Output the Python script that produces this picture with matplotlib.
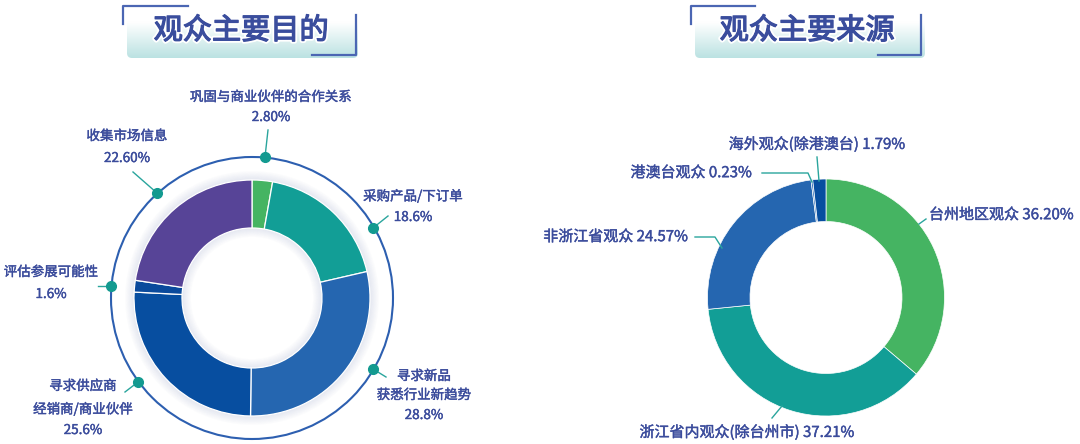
import matplotlib
matplotlib.use('Agg')
import matplotlib.pyplot as plt
import numpy as np
from matplotlib.patches import FancyBboxPatch, Circle, Wedge
import matplotlib.patheffects as pe

plt.rcParams['font.family'] = ['Noto Sans CJK SC', 'DejaVu Sans']

W, H = 1080, 444

left_title = '观众主要目的'
right_title = '观众主要来源'

purpose_labels = ['巩固与商业伙伴的合作关系', '采购产品/下订单', '寻求新品\n获悉行业新趋势',
                  '寻求供应商\n经销商/商业伙伴', '评估参展可能性', '收集市场信息']
purpose_values = [2.80, 18.6, 28.8, 25.6, 1.6, 22.60]
purpose_pct = ['2.80%', '18.6%', '28.8%', '25.6%', '1.6%', '22.60%']
purpose_colors = ['#45b462', '#129e96', '#2566b0', '#074ea0', '#0a4a9c', '#574497']

source_labels = ['台州地区观众', '浙江省内观众(除台州市)', '非浙江省观众', '港澳台观众', '海外观众(除港澳台)']
source_values = [36.20, 37.21, 24.57, 0.23, 1.79]
source_pct = ['36.20%', '37.21%', '24.57%', '0.23%', '1.79%']
source_colors = ['#45b462', '#129e96', '#2566b0', '#2f6fb8', '#074ea0']

TXT = '#3b4c9c'
LEAD = '#2aa59d'
DOT = '#139a90'
TITLE = '#3a4d9d'

fig = plt.figure(figsize=(10.8, 4.44), dpi=100)
ax = fig.add_axes([0, 0, 1, 1])


def Y(y):
    return H - y


label_fx = [pe.Stroke(linewidth=0.3, foreground=TXT), pe.Normal()]


# ---------- title boxes ----------
def title_box(x0, x1, tl, br, text, tx):
    y0, y1 = 10, 58
    grad = np.linspace(0, 1, 100)[:, None]
    top = np.array([1.0, 1.0, 1.0])
    bot = np.array([0xbb, 0xe2, 0xe2]) / 255
    t = np.clip((grad - 0.25) / 0.75, 0, 1)
    img = top * (1 - t[..., None]) + bot * t[..., None]
    img = np.repeat(img, 2, axis=1)
    patch = FancyBboxPatch((x0, Y(y1)), x1 - x0, y1 - y0,
                           boxstyle='round,pad=0,rounding_size=5',
                           fc='none', ec='none', zorder=1)
    ax.add_patch(patch)
    im = ax.imshow(img, extent=(x0, x1, Y(y1), Y(y0)), origin='upper',
                   aspect='auto', zorder=1)
    im.set_clip_path(patch)
    ax.plot([tl[0], tl[0], tl[1]], [Y(24), Y(6), Y(6)], color='#4b66b3', lw=1.6,
            solid_joinstyle='round', zorder=3)
    ax.plot([br[0], br[0], br[1]], [Y(15), Y(55), Y(55)], color='#4b66b3', lw=1.6,
            solid_joinstyle='round', zorder=3)
    ax.text(tx, Y(31), text, ha='center', va='center', fontsize=21,
            color=TITLE, zorder=4,
            path_effects=[pe.withStroke(linewidth=3.5, foreground='white'),
                          pe.Stroke(linewidth=0.9, foreground=TITLE), pe.Normal()])


title_box(127, 358, (123, 188), (356, 312), left_title, 241)
title_box(695, 925, (691, 755), (921, 878), right_title, 807)

# ---------- left donut ----------
lc = (252, Y(298))
lR, lr = 118, 70
for k in range(9):
    ax.add_patch(Wedge(lc, lR + k + 1, 0, 360, width=1, color='#4a5f9e',
                       alpha=0.14 * (1 - k / 9), lw=0, zorder=1))
    ax.add_patch(Wedge(lc, lr - k, 0, 360, width=1, color='#4a5f9e',
                       alpha=0.14 * (1 - k / 9), lw=0, zorder=1))
ax.pie(purpose_values, center=lc, radius=lR, startangle=90, counterclock=False,
       colors=purpose_colors, frame=True,
       wedgeprops=dict(width=lR - lr, edgecolor='white', linewidth=0.9, zorder=2))
ax.add_patch(Circle(lc, 141, fill=False, ec='#2d5fb0', lw=1.5, zorder=3))

left_layout = [
    dict(tx=271, ty=[97, 117], dot=(265, 157), end=(268, 130)),
    dict(tx=413, ty=[196, 217], dot=(373, 228), end=(388, 216)),
    dict(tx=424, ty=[376, 395, 415], dot=(373, 369), end=(386, 377)),
    dict(tx=83, ty=[386, 409, 430], dot=(138, 382), end=(125, 392)),
    dict(tx=51, ty=[272, 294], dot=(111, 286), end=(98, 286)),
    dict(tx=127, ty=[136, 158], dot=(157, 193), end=(133, 172)),
]
for lab, pct, lay in zip(purpose_labels, purpose_pct, left_layout):
    lines = lab.split('\n') + [pct]
    for s, ty in zip(lines, lay['ty']):
        ax.text(lay['tx'], Y(ty), s, ha='center', va='center', fontsize=9.7,
                color=TXT, zorder=5, path_effects=label_fx)
    ax.plot([lay['dot'][0], lay['end'][0]], [Y(lay['dot'][1]), Y(lay['end'][1])],
            color=LEAD, lw=1, zorder=4)
    ax.plot(lay['dot'][0], Y(lay['dot'][1]), 'o', ms=7, color=DOT, zorder=5)

# ---------- right donut ----------
rc = (826, Y(297.5))
rR, rr = 118.5, 76
ax.pie(source_values, center=rc, radius=rR, startangle=90, counterclock=False,
       colors=source_colors, frame=True,
       wedgeprops=dict(width=rR - rr, edgecolor='white', linewidth=0.5, zorder=2))

right_layout = [
    dict(x=929, y=215, ha='left', pts=[(919, 224), (926, 219)]),
    dict(x=747, y=432, ha='center', pts=[(782, 406), (772, 418)]),
    dict(x=688, y=237, ha='right', pts=[(695, 237), (715, 237), (722, 248)]),
    dict(x=752, y=173, ha='right', pts=[(762, 173), (808, 173), (812, 182)]),
    dict(x=817, y=144, ha='center', pts=[(817, 157), (819, 181)]),
]
for lab, pct, lay in zip(source_labels, source_pct, right_layout):
    ax.text(lay['x'], Y(lay['y']), f'{lab} {pct}', ha=lay['ha'], va='center',
            fontsize=10.8, color=TXT, zorder=5, path_effects=label_fx)
    xs = [p[0] for p in lay['pts']]
    ys = [Y(p[1]) for p in lay['pts']]
    ax.plot(xs, ys, color=LEAD, lw=1, zorder=4)

ax.set_xlim(0, W)
ax.set_ylim(0, H)
ax.set_aspect('auto')
ax.axis('off')
fig.savefig('out.png', dpi=100)
